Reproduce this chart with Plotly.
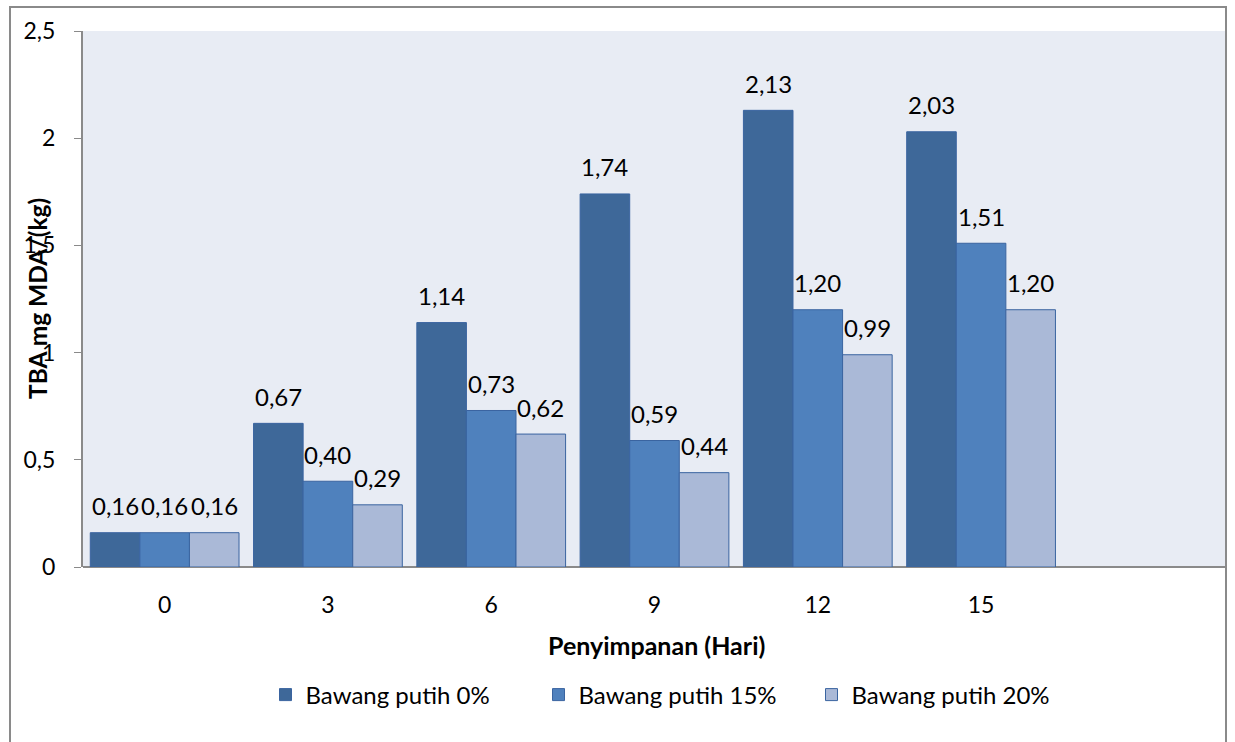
import plotly.graph_objects as go

# Storage days (categories) and TBA values per garlic concentration
days = ["0", "3", "6", "9", "12", "15"]
series_names = ["Bawang putih 0%", "Bawang putih 15%", "Bawang putih 20%"]
tba_0 = [0.16, 0.67, 1.14, 1.74, 2.13, 2.03]
tba_15 = [0.16, 0.40, 0.73, 0.59, 1.20, 1.51]
tba_20 = [0.16, 0.29, 0.62, 0.44, 0.99, 1.20]
y_ticks = [0, 0.5, 1, 1.5, 2, 2.5]

series_values = [tba_0, tba_15, tba_20]
colors = ["#3E6899", "#4F81BD", "#AAB9D7"]
FONT = "Lato, 'Open Sans', sans-serif"

W, H = 1235, 742
L, R, T, B = 83, 1226, 31, 567  # plot area in pixels
BARGAP = 0.089

x_pos = list(range(len(days)))
fig = go.Figure()
for name, vals, col in zip(series_names, series_values, colors):
    fig.add_trace(go.Bar(
        x=x_pos, y=vals, name=name,
        marker=dict(color=col, line=dict(color="#3A64A0", width=1)),
    ))

# value labels above each bar
n = len(series_values)
bar_w = (1 - BARGAP) / n
annotations = []
for j, vals in enumerate(series_values):
    off = (j - (n - 1) / 2) * bar_w
    for i, v in enumerate(vals):
        annotations.append(dict(
            x=i + off, y=v, xref="x", yref="y",
            text=f"{v:.2f}".replace(".", ","),
            showarrow=False, yanchor="middle", yshift=27,
            font=dict(family=FONT, size=24, color="#000000"),
        ))

pw, ph = R - L, B - T
# axis titles
annotations.append(dict(
    x=(37 - L) / pw, y=0.5, xref="paper", yref="paper",
    text="<b>TBA mg MDA/(kg)</b>", textangle=-90, showarrow=False,
    xanchor="center", yanchor="middle",
    font=dict(family=FONT, size=24.5, color="#000000"),
))
annotations.append(dict(
    x=(656 - L) / pw, y=(B - 645) / ph, xref="paper", yref="paper",
    text="<b>Penyimpanan (Hari)</b>", showarrow=False,
    xanchor="center", yanchor="middle",
    font=dict(family=FONT, size=25, color="#000000"),
))

# outer chart frame
shapes = [dict(
    type="rect", xref="paper", yref="paper",
    x0=(10 - L) / pw, x1=(R - L) / pw,
    y0=(B - 760) / ph, y1=(B - 7) / ph,
    line=dict(color="#8A8A8A", width=2), fillcolor="rgba(0,0,0,0)", layer="below",
)]

fig.update_layout(
    width=W, height=H,
    margin=dict(l=L, r=W - R, t=T, b=H - B, autoexpand=False),
    paper_bgcolor="#FFFFFF", plot_bgcolor="#E8ECF4",
    barmode="group", bargap=BARGAP, bargroupgap=0,
    font=dict(family=FONT, color="#000000"),
    showlegend=True,
    legend=dict(
        orientation="h", x=(675 - L) / pw, xanchor="center",
        y=(B - 695) / ph, yanchor="middle",
        font=dict(family=FONT, size=24, color="#000000"),
        itemwidth=30, traceorder="normal",
        entrywidth=228, entrywidthmode="pixels",
    ),
    annotations=annotations, shapes=shapes,
)
fig.update_xaxes(
    range=[-0.5, 6.5], tickvals=x_pos, ticktext=days,
    showgrid=False, zeroline=False, showline=False, ticks="",
    tickfont=dict(family=FONT, size=23), ticklabelstandoff=22,
)
fig.update_yaxes(
    range=[0, 2.5], tickvals=y_ticks,
    ticktext=[f"{t:g}".replace(".", ",") for t in y_ticks],
    showgrid=False, zeroline=True, zerolinecolor="#8A8A8A", zerolinewidth=2,
    showline=True, linecolor="#8A8A8A", linewidth=2,
    ticks="outside", ticklen=7, tickcolor="#8A8A8A", tickwidth=1,
    tickfont=dict(family=FONT, size=23), ticklabelstandoff=14,
)

fig.write_html("out.html")
